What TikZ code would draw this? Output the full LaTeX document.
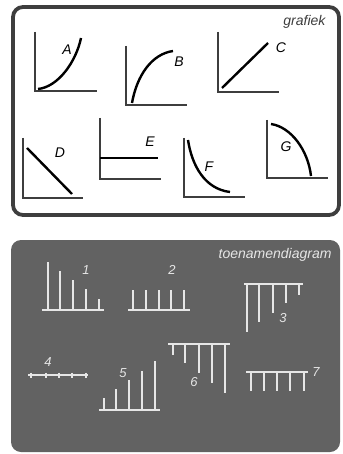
\documentclass[tikz,border=0pt]{standalone}
\usepackage{fontspec}
\setmainfont{Liberation Sans}
\definecolor{framegray}{RGB}{62,62,62}
\definecolor{panelgray}{RGB}{98,98,98}
\definecolor{bargray}{RGB}{230,230,230}
\begin{document}
\begin{tikzpicture}[x=1pt,y=-1pt,
    axis/.style={framegray, line width=1.1pt},
    curve/.style={black, line width=2.4pt},
    bar/.style={bargray, line width=1.5pt},
    letter/.style={font=\fontsize{14}{14}\selectfont\itshape},
    number/.style={font=\fontsize{13}{13}\selectfont\itshape, text=bargray}]
        \useasboundingbox (0,0) rectangle (342,454);
        % grafiek panel
        \draw[framegray, line width=3.8pt, fill=white, rounded corners=10pt] (13,7) rectangle (339,215);
        \node[letter, text=framegray, anchor=east] (grafiek) at (329,22) {grafiek};

        \draw[axis] (35,32) -- (35,91) -- (97,91);
        \draw[curve] (38,89) .. controls (58,87) and (76,62) .. (81,38);
        \node[letter] (labelA) at (67,50) {A};

        \draw[axis] (126,46) -- (126,105) -- (187,105);
        \draw[curve] (132,103) .. controls (137,75) and (152,54) .. (173,51);
        \node[letter] (labelB) at (179,62) {B};

        \draw[axis] (218,32) -- (218,92) -- (279,92);
        \draw[curve] (222,88) -- (268,43);
        \node[letter] (labelC) at (281,48) {C};

        \draw[axis] (23,138) -- (23,198) -- (83,198);
        \draw[curve] (27,148) -- (72,194);
        \node[letter] (labelD) at (60,153) {D};

        \draw[axis] (100,118) -- (100,179) -- (161,179);
        \draw[curve] (100,158) -- (158,158);
        \node[letter] (labelE) at (150,142) {E};

        \draw[axis] (184,138) -- (184,197) -- (245,197);
        \draw[curve] (188,140) .. controls (192,166) and (205,189) .. (230,192);
        \node[letter] (labelF) at (209,167) {F};

        \draw[axis] (267,120) -- (267,178) -- (328,178);
        \draw[curve] (271,124) .. controls (291,127) and (308,150) .. (311,176);
        \node[letter] (labelG) at (286,147) {G};

        % toenamendiagram panel
        \fill[panelgray, rounded corners=10pt] (11,240) rectangle (340,452);
        \node[letter, text=bargray, anchor=east] (toename) at (335,255) {toenamendiagram};

        % 1
        \draw[bar] (42,310) -- (104,310);
        \draw[bar] (48,310) -- (48,262) (60,310) -- (60,271) (73,310) -- (73,280)
                   (86,310) -- (86,289) (99,310) -- (99,299);
        \node[number] (one) at (86,270) {1};
        % 2
        \draw[bar] (128,310) -- (190,310);
        \draw[bar] (133,310) -- (133,290) (146,310) -- (146,290) (159,310) -- (159,290)
                   (171,310) -- (171,290) (184,310) -- (184,290);
        \node[number] (two) at (172,270) {2};
        % 3
        \draw[bar] (244,284) -- (303,284);
        \draw[bar] (247,284) -- (247,332) (259,284) -- (259,322) (273,284) -- (273,313)
                   (286,284) -- (286,303) (299,284) -- (299,295);
        \node[number] (three) at (283,318) {3};
        % 4
        \draw[bar, line width=1.1pt] (28,375) -- (88,375);
        \draw[bar, line width=1.1pt] (31,372.5) -- (31,377.5) (46,372.5) -- (46,377.5) (59,372.5) -- (59,377.5)
                   (72,372.5) -- (72,377.5) (86,372.5) -- (86,377.5);
        \node[number] (four) at (48,362) {4};
        % 5
        \draw[bar] (99,410) -- (160,410);
        \draw[bar] (104,410) -- (104,398) (116,410) -- (116,389) (129,410) -- (129,380)
                   (142,410) -- (142,371) (155,410) -- (155,361);
        \node[number] (five) at (123,373) {5};
        % 6
        \draw[bar] (168,344) -- (230,344);
        \draw[bar] (173,344) -- (173,355) (185,344) -- (185,363) (199,344) -- (199,373)
                   (212,344) -- (212,383) (225,344) -- (225,393);
        \node[number] (six) at (194,382) {6};
        % 7
        \draw[bar] (246,372) -- (308,372);
        \draw[bar] (251,372) -- (251,391) (264,372) -- (264,391) (277,372) -- (277,391)
                   (290,372) -- (290,391) (304,372) -- (304,391);
        \node[number] (seven) at (316,372) {7};
    \end{tikzpicture}
\end{document}
